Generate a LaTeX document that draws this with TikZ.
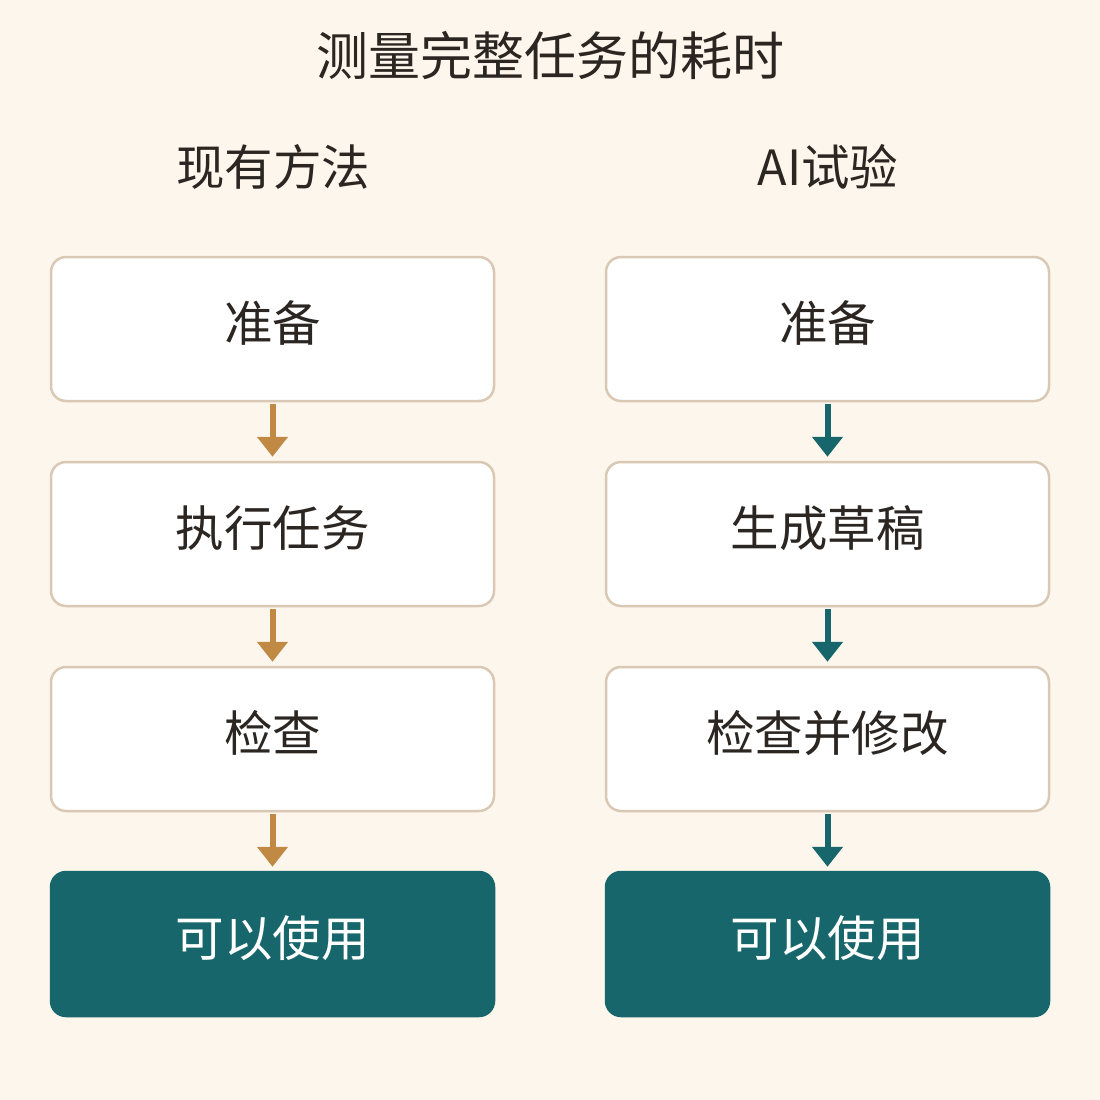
\documentclass[tikz,border=0pt]{standalone}
\usepackage{fontspec}
\setmainfont{Noto Sans CJK SC}
\usetikzlibrary{arrows.meta}
\definecolor{bgcream}{HTML}{FDF6EC}
\definecolor{boxline}{HTML}{D9C8B4}
\definecolor{inkdark}{HTML}{2B2622}
\definecolor{tealdark}{HTML}{17666B}
\definecolor{goldarrow}{HTML}{C08A45}

\begin{document}
\begin{tikzpicture}[x=1pt, y=-1pt,
                    step box/.style={draw=boxline, line width=2.5pt, fill=white, rounded corners=15pt,
                                     minimum width=443pt, minimum height=144pt, text=inkdark,
                                     text height=42pt, text depth=17pt,
                                     font=\fontsize{48.5}{52}\selectfont},
                    done box/.style={step box, draw=tealdark, fill=tealdark, text=white},
                    flow/.style={line width=6pt, -{Triangle[width=30pt,length=20pt]},
                                 shorten <=2pt, shorten >=4pt}]
  \fill[bgcream] (0,0) rectangle (1100,1100);
  \useasboundingbox (0,0) rectangle (1100,1100);

  % title and column heads
  \node[text=inkdark, font=\fontsize{52}{56}\selectfont] (title) at (550,56) {测量完整任务的耗时};
  \node[text=inkdark, font=\fontsize{48.5}{52}\selectfont] (headL) at (273,167) {现有方法};
  \node[text=inkdark, font=\fontsize{48.5}{52}\selectfont] (headR) at (828,167) {AI试验};

  % left column: existing method
  \node[step box] (L1) at (272.5,329) {准备};
  \node[step box] (L2) at (272.5,534) {执行任务};
  \node[step box] (L3) at (272.5,739) {检查};
  \node[done box] (L4) at (272.5,944) {可以使用};

  % right column: AI trial
  \node[step box] (R1) at (827.5,329) {准备};
  \node[step box] (R2) at (827.5,534) {生成草稿};
  \node[step box] (R3) at (827.5,739) {检查并修改};
  \node[done box] (R4) at (827.5,944) {可以使用};

  % arrows
  \foreach \a/\b in {1/2,2/3,3/4}{
    \draw[flow, goldarrow] (L\a) -- (L\b);
    \draw[flow, tealdark]  (R\a) -- (R\b);
  }
\end{tikzpicture}
\end{document}
